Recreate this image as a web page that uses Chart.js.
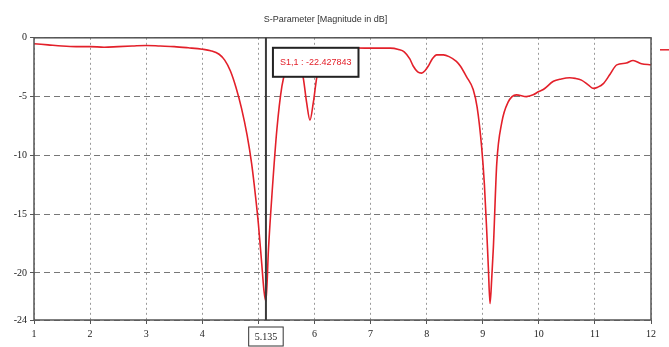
<!DOCTYPE html>
<html>
<head>
<meta charset="utf-8">
<script src="https://cdn.jsdelivr.net/npm/chart.js@4/dist/chart.umd.min.js"></script>
<style>
html,body{margin:0;padding:0;background:#fff;}
#wrap{width:669px;height:347px;position:relative;}
</style>
</head>
<body>
<div id="wrap"><canvas id="c" width="669" height="347"></canvas></div>
<script>
// ---- data ----
const freqGHz = [1.0,1.25,1.5,1.75,2.0,2.25,2.5,2.75,3.0,3.25,3.5,3.75,4.0,4.15,4.3,4.4,4.5,4.6,4.7,4.8,4.88,4.95,5.0,5.06,5.1,5.135,5.18,5.24,5.33,5.42,5.5,5.6,5.7,5.8,5.86,5.92,5.98,6.04,6.12,6.25,6.5,7.0,7.35,7.5,7.6,7.7,7.76,7.84,7.91,7.97,8.03,8.1,8.18,8.3,8.4,8.53,8.6,8.71,8.83,8.9,8.98,9.03,9.07,9.1,9.13,9.16,9.19,9.25,9.34,9.45,9.6,9.78,9.9,10.0,10.08,10.26,10.4,10.55,10.65,10.76,10.88,10.97,11.05,11.15,11.27,11.39,11.56,11.68,11.83,12.0];
const s11dB = [-0.5,-0.6,-0.7,-0.75,-0.75,-0.8,-0.75,-0.7,-0.65,-0.7,-0.75,-0.85,-0.97,-1.1,-1.4,-1.9,-2.8,-4.2,-6.0,-8.3,-10.7,-13.5,-15.8,-19.2,-21.5,-22.43,-18.0,-13.5,-7.8,-4.1,-2.6,-1.6,-1.8,-3.4,-5.5,-7.0,-5.5,-3.4,-1.8,-1.0,-0.85,-0.88,-0.88,-1.0,-1.2,-1.8,-2.4,-2.9,-3.0,-2.8,-2.4,-1.8,-1.45,-1.45,-1.6,-2.0,-2.4,-3.3,-4.4,-5.9,-9.25,-12.5,-16.3,-19.5,-22.6,-20.5,-17.8,-10.7,-7.2,-5.5,-4.85,-5.0,-4.85,-4.57,-4.4,-3.7,-3.5,-3.4,-3.45,-3.6,-4.0,-4.3,-4.2,-3.9,-3.1,-2.3,-2.15,-1.93,-2.2,-2.3];
const xTicks = [1,2,3,4,5,6,7,8,9,10,11,12];
const yTicks = [0,-5,-10,-15,-20,-24];
const markerFreq = 5.135;
const markerLabel = 'S1,1 : -22.427843';
const markerFreqLabel = '5.135';
const chartTitle = 'S-Parameter [Magnitude in dB]';
const seriesColor = '#e3202a';

const points = freqGHz.map((f,i)=>({x:f,y:s11dB[i]}));
const tickFont = {family:'Liberation Serif', size:10};

const decor = {
  id:'decor',
  afterDatasetsDraw(chart){
    const {ctx, chartArea:a, scales:{x}} = chart;
    ctx.save();
    // frame
    ctx.strokeStyle = '#555'; ctx.lineWidth = 1.5;
    ctx.strokeRect(a.left, a.top, a.right-a.left, a.bottom-a.top);
    // marker line
    const mx = x.getPixelForValue(markerFreq);
    ctx.strokeStyle = '#3a3a3a'; ctx.lineWidth = 2;
    ctx.beginPath(); ctx.moveTo(mx, a.top); ctx.lineTo(mx, a.bottom); ctx.stroke();
    // marker value box
    ctx.font = '9px "Liberation Sans"';
    const tw = ctx.measureText(markerLabel).width;
    const bx = mx+7, by = a.top+10, bw = tw+14, bh = 29;
    ctx.fillStyle = '#fff'; ctx.fillRect(bx, by, bw, bh);
    ctx.strokeStyle = '#222'; ctx.lineWidth = 2; ctx.strokeRect(bx, by, bw, bh);
    ctx.fillStyle = seriesColor; ctx.textAlign='left'; ctx.textBaseline='middle';
    ctx.fillText(markerLabel, bx+7, by+bh/2);
    // marker freq box on x axis
    ctx.font = '10px "Liberation Serif"';
    const fw = ctx.measureText(markerFreqLabel).width;
    const fbw = fw+12, fbh = 19, fby = a.bottom+7;
    ctx.fillStyle='#fff'; ctx.fillRect(mx-fbw/2, fby, fbw, fbh);
    ctx.strokeStyle='#333'; ctx.lineWidth=1; ctx.strokeRect(mx-fbw/2, fby, fbw, fbh);
    ctx.fillStyle='#222'; ctx.textAlign='center';
    ctx.fillText(markerFreqLabel, mx, fby+fbh/2+1);
    // legend stub (cut off at right edge)
    ctx.strokeStyle = seriesColor; ctx.lineWidth = 1.5;
    ctx.beginPath(); ctx.moveTo(a.right+9, a.top+12); ctx.lineTo(chart.width, a.top+12); ctx.stroke();
    ctx.restore();
  }
};

new Chart(document.getElementById('c'), {
  type:'line',
  data:{datasets:[{
    label:'S1,1',
    data:points,
    borderColor:seriesColor,
    borderWidth:1.6,
    pointRadius:0,
    cubicInterpolationMode:'monotone',
    fill:false
  }]},
  options:{
    responsive:false,
    animation:false,
    layout:{padding:{left:0,right:18,top:0,bottom:0}},
    plugins:{
      legend:{display:false},
      tooltip:{enabled:false},
      title:{display:true,text:chartTitle,color:'#333',
        font:{family:'Liberation Sans',size:9,weight:'normal'},
        padding:{top:14,bottom:13}}
    },
    scales:{
      x:{
        type:'linear',min:1,max:12,
        afterBuildTicks(s){ s.ticks = xTicks.map(v=>({value:v})); },
        afterFit(s){ s.height = 27; },
        ticks:{color:'#222',font:tickFont,padding:4,maxRotation:0,
          callback:(v)=> v===5 ? '' : String(v)},
        grid:{color:'#999',lineWidth:1,tickLength:4,tickColor:'#555'},
        border:{display:false,dash:[2,3]}
      },
      y:{
        type:'linear',min:-24,max:0,
        afterBuildTicks(s){ s.ticks = yTicks.map(v=>({value:v})); },
        afterFit(s){ s.width = 34; },
        ticks:{color:'#222',font:tickFont,padding:3},
        grid:{color:'#777',lineWidth:1,tickLength:4,tickColor:'#555'},
        border:{display:false,dash:[6,4]}
      }
    }
  },
  plugins:[decor]
});
</script>
</body>
</html>
